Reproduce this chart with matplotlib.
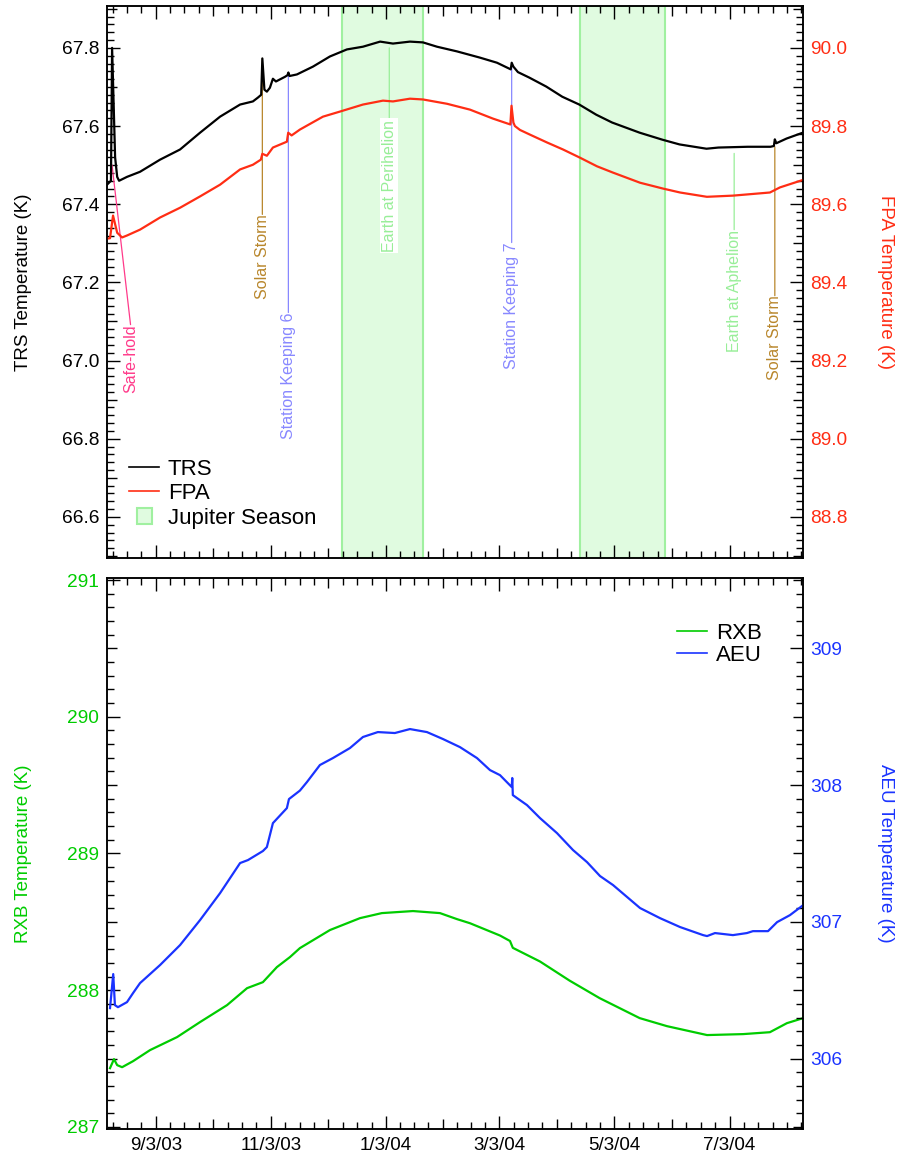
import numpy as np
import matplotlib
matplotlib.use('Agg')
import matplotlib.pyplot as plt
import matplotlib.dates as mdates
from matplotlib.lines import Line2D
from matplotlib.patches import Rectangle
from matplotlib.legend_handler import HandlerPatch
from matplotlib.ticker import FixedLocator, FormatStrFormatter

plt.rcParams['font.family'] = ['Liberation Sans', 'DejaVu Sans']

# ---------------- data ----------------
base_date = '2003-09-03'   # day 0 of the day-offset arrays

trs_days = [-25.8, -23.7, -23.1, -21.5, -20.4, -19.4, -15.2, -8.3, 2.3, 12.9, 23.5, 34.1,
            44.7, 51.5, 54.2, 55.9, 56.5, 57.6, 58.9, 60.5, 62.1, 63.7, 68.5, 69.8, 70.3,
            70.9, 74.8, 83.3, 92.3, 101.3, 109.8, 118.9, 125.7, 134.7, 141.6, 149.0, 159.6,
            171.8, 180.8, 188.1, 188.6, 189.5, 191.9, 197.9, 206.9, 215.4, 224.4, 233.4,
            241.8, 256.4, 268.5, 277.5, 291.8, 298.1, 313.6, 325.7, 327.5, 328.0, 328.8,
            334.2, 342.8]
trs_vals = [67.45, 67.46, 67.80, 67.52, 67.47, 67.46, 67.47, 67.483, 67.514, 67.540, 67.583,
            67.624, 67.655, 67.663, 67.673, 67.680, 67.773, 67.693, 67.688, 67.698, 67.721,
            67.714, 67.726, 67.730, 67.737, 67.728, 67.732, 67.752, 67.778, 67.796, 67.803,
            67.816, 67.811, 67.816, 67.814, 67.803, 67.791, 67.775, 67.762, 67.745, 67.762,
            67.752, 67.738, 67.724, 67.701, 67.675, 67.655, 67.629, 67.609, 67.583, 67.565,
            67.553, 67.542, 67.545, 67.547, 67.547, 67.549, 67.566, 67.556, 67.568, 67.583]

fpa_days = [-25.8, -24.2, -22.6, -20.4, -17.8, -15.2, -8.3, 2.3, 12.9, 23.5, 34.1, 44.7,
            51.5, 55.7, 56.5, 58.9, 62.1, 69.5, 70.2, 72.0, 76.4, 88.6, 97.6, 109.8, 120.4,
            125.7, 134.7, 141.6, 154.3, 166.5, 178.7, 187.9, 188.5, 189.5, 190.3, 193.0,
            198.3, 207.3, 215.8, 224.8, 233.8, 242.2, 256.6, 268.8, 277.8, 292.0, 305.8,
            313.2, 325.4, 330.7, 342.8]
fpa_vals = [89.512, 89.513, 89.571, 89.527, 89.515, 89.520, 89.535, 89.566, 89.591, 89.620,
            89.650, 89.689, 89.701, 89.714, 89.729, 89.724, 89.745, 89.760, 89.783, 89.776,
            89.791, 89.824, 89.837, 89.855, 89.865, 89.863, 89.870, 89.868, 89.857, 89.842,
            89.819, 89.804, 89.852, 89.809, 89.800, 89.790, 89.778, 89.758, 89.740, 89.719,
            89.697, 89.681, 89.655, 89.640, 89.630, 89.619, 89.622, 89.625, 89.630, 89.643,
            89.662]

rxb_days = [-24.2, -22.1, -20.4, -17.8, -12.0, -3.0, 11.3, 23.5, 37.8, 48.4, 56.8, 64.2,
            71.1, 76.4, 92.3, 108.2, 119.8, 136.3, 150.6, 159.6, 166.5, 182.4, 187.7, 189.2,
            203.6, 219.3, 235.2, 256.4, 270.9, 292.1, 311.2, 325.4, 334.4, 342.8]
rxb_vals = [287.430, 287.496, 287.452, 287.437, 287.481, 287.562, 287.657, 287.767, 287.891,
            288.015, 288.059, 288.169, 288.242, 288.308, 288.44, 288.527, 288.564, 288.579,
            288.564, 288.520, 288.49, 288.40, 288.36, 288.31, 288.21, 288.07, 287.942,
            287.796, 287.737, 287.672, 287.679, 287.693, 287.759, 287.795]

aeu_days = [-24.2, -22.5, -21.6, -20.0, -15.2, -12.0, -8.3, 2.3, 12.9, 23.5, 34.1, 44.7,
            48.9, 56.8, 58.9, 62.1, 69.5, 70.6, 76.4, 80.1, 87.0, 93.9, 102.9, 109.8, 117.7,
            126.7, 134.7, 143.7, 152.2, 161.2, 170.2, 177.1, 182.4, 188.6, 188.9, 189.2,
            196.7, 203.6, 212.6, 221.1, 228.5, 235.4, 242.3, 256.6, 267.2, 277.8, 290.0,
            292.1, 296.3, 305.8, 313.2, 316.4, 324.4, 329.2, 336.0, 342.8]
aeu_vals = [306.369, 306.618, 306.391, 306.376, 306.413, 306.479, 306.552, 306.684, 306.830,
            307.013, 307.210, 307.430, 307.452, 307.518, 307.547, 307.722, 307.832, 307.898,
            307.960, 308.022, 308.147, 308.198, 308.271, 308.352, 308.388, 308.381, 308.410,
            308.388, 308.337, 308.278, 308.198, 308.110, 308.073, 307.986, 308.052, 307.927,
            307.854, 307.759, 307.649, 307.525, 307.437, 307.335, 307.269, 307.101, 307.027,
            306.962, 306.903, 306.896, 306.918, 306.903, 306.918, 306.932, 306.932, 306.998,
            307.049, 307.120]

jupiter_starts = ['2003-12-10 17:00', '2004-04-14 17:00']
jupiter_ends = ['2004-01-22 14:00', '2004-05-29 19:00']

event_labels = ['Safe-hold', 'Solar Storm', 'Station Keeping 6', 'Earth at Perihelion',
                'Station Keeping 7', 'Earth at Aphelion', 'Solar Storm']
event_dates = ['2003-08-10 21:00', '2003-10-29 12:00', '2003-11-12 07:00', '2004-01-04 18:00',
               '2004-03-09 14:00', '2004-07-05 11:00', '2004-07-27 00:00']
event_trs = [67.50, 67.773, 67.737, 67.80, 67.762, 67.53, 67.547]

xtick_dates = ['2003-09-03', '2003-11-03', '2004-01-03', '2004-03-03', '2004-05-03', '2004-07-03']
xtick_labels = ['9/3/03', '11/3/03', '1/3/04', '3/3/04', '5/3/04', '7/3/04']

# ---------------- styling / layout ----------------
C_TRS = 'black'
C_FPA = '#ff2d14'
C_RXB = '#00cc00'
C_AEU = '#1a33ff'
event_colors = ['#ff3a8a', '#b8862b', '#8888ff', '#98ee98', '#8888ff', '#98ee98', '#b8862b']
event_text_top = [67.092, 67.374, 67.123, 67.616, 67.302, 67.335, 67.166]
event_text_dx = [9.8, 0, 0, 0, 0, 0, 0]
J_FACE = '#e0fbe0'
J_EDGE = '#a0f0a0'

TICK_FS = 13.8
XTICK_FS = 13.5
LABEL_FS = 13.5
ANN_FS = 11.5
LEG_FS = 16
MAJ_LEN, MED_LEN, MIN_LEN = 9.5, 7.5, 5

b0 = mdates.datestr2num(base_date)
trs_x = b0 + np.array(trs_days)
fpa_x = b0 + np.array(fpa_days)
rxb_x = b0 + np.array(rxb_days)
aeu_x = b0 + np.array(aeu_days)
xmaj = mdates.datestr2num(xtick_dates)
xlim = (mdates.datestr2num('2003-08-08 05:00'), mdates.datestr2num('2004-08-10 22:00'))

# minor ticks: 8 subdivisions between majors
step = (xmaj[-1] - xmaj[0]) / (len(xmaj) - 1) / 8
xmin_ticks = []
for i in range(len(xmaj) - 1):
    xmin_ticks += list(np.linspace(xmaj[i], xmaj[i + 1], 9)[1:-1])
t = xmaj[0] - step
while t > xlim[0]:
    xmin_ticks.append(t); t -= step
t = xmaj[-1] + step
while t < xlim[1]:
    xmin_ticks.append(t); t += step
xmid = [(xmaj[i] + xmaj[i + 1]) / 2 for i in range(len(xmaj) - 1)]

fig = plt.figure(figsize=(9, 11.62), dpi=100)
ax1 = fig.add_axes([0.1189, 0.5198, 0.7733, 0.4750])
ax2 = fig.add_axes([0.1189, 0.0284, 0.7733, 0.4742])
ax1r = ax1.twinx()
ax2r = ax2.twinx()

for a in (ax1, ax2, ax1r, ax2r):
    for s in a.spines.values():
        s.set_linewidth(1.1)

# ---- top panel ----
for s0, e0 in zip(jupiter_starts, jupiter_ends):
    ax1.axvspan(mdates.datestr2num(s0), mdates.datestr2num(e0), facecolor=J_FACE,
                edgecolor=J_EDGE, lw=1.5, zorder=0)
ax1.plot(trs_x, trs_vals, color=C_TRS, lw=1.6, zorder=3)
ax1r.plot(fpa_x, fpa_vals, color=C_FPA, lw=1.6)

for lab, d, yv, c, ty, dx in zip(event_labels, event_dates, event_trs, event_colors,
                                 event_text_top, event_text_dx):
    xd = mdates.datestr2num(d)
    bbox = dict(facecolor='white', edgecolor='none', pad=1.0) if 'Perihelion' in lab else None
    ax1.annotate(lab, xy=(xd, yv), xytext=(xd + dx, ty), rotation=90, ha='center', va='top',
                 color=c, fontsize=ANN_FS, bbox=bbox, zorder=2,
                 arrowprops=dict(arrowstyle='-', color=c, lw=0.9, shrinkA=0, shrinkB=0,
                                 relpos=(0.5, 1.0), patchA=None))

ax1.set_ylim(66.495, 67.907)
ax1r.set_ylim(88.695, 90.107)
ax1.set_xlim(*xlim)

# ---- bottom panel ----
ax2.plot(rxb_x, rxb_vals, color=C_RXB, lw=1.6)
ax2r.plot(aeu_x, aeu_vals, color=C_AEU, lw=1.6)
ax2.set_ylim(286.985, 291.015)
ax2r.set_ylim(305.485, 309.515)
ax2.set_xlim(*xlim)

# ---- ticks ----
def style_axes(ax, axr, ymaj, ymin, ymaj_r, ymin_r, fmt, c_left, c_right):
    ax.yaxis.set_major_locator(FixedLocator(ymaj))
    ax.yaxis.set_minor_locator(FixedLocator(ymin))
    axr.yaxis.set_major_locator(FixedLocator(ymaj_r))
    axr.yaxis.set_minor_locator(FixedLocator(ymin_r))
    ax.yaxis.set_major_formatter(FormatStrFormatter(fmt))
    axr.yaxis.set_major_formatter(FormatStrFormatter(fmt))
    ax.set_xticks(xmaj)
    ax.xaxis.set_minor_locator(FixedLocator(xmin_ticks))
    ax.tick_params(axis='both', which='both', direction='in', width=1.0, top=True, bottom=True)
    ax.tick_params(which='major', length=MAJ_LEN)
    ax.tick_params(which='minor', length=MIN_LEN)
    ax.tick_params(axis='y', which='both', left=True, right=False, labelsize=TICK_FS,
                   labelcolor=c_left, pad=5.5)
    ax.tick_params(axis='x', labelsize=XTICK_FS, pad=6)
    axr.tick_params(axis='y', which='both', direction='in', width=1.0, left=False, right=True,
                    labelsize=TICK_FS, labelcolor=c_right, pad=5.5)
    axr.tick_params(which='major', length=MAJ_LEN)
    axr.tick_params(which='minor', length=MIN_LEN)

top_maj = np.round(np.arange(66.6, 67.81, 0.2), 2)
top_min = np.round(np.arange(66.50, 67.905, 0.02), 2)
topr_maj = np.round(np.arange(88.8, 90.01, 0.2), 2)
topr_min = np.round(np.arange(88.70, 90.105, 0.02), 2)
style_axes(ax1, ax1r, top_maj, top_min, topr_maj, topr_min, '%.1f', 'black', C_FPA)
bot_maj = np.arange(287, 291.5, 1.0)
bot_min = np.round(np.arange(287.0, 291.01, 0.1), 1)
botr_maj = np.arange(306, 309.5, 1.0)
botr_min = np.round(np.arange(305.5, 309.51, 0.1), 1)
style_axes(ax2, ax2r, bot_maj, bot_min, botr_maj, botr_min, '%d', C_RXB, C_AEU)
ax1.tick_params(axis='x', labelbottom=False)
ax2.set_xticklabels(xtick_labels)

# ---- labels ----
lab_kw = dict(fontsize=LABEL_FS)
ax1.set_ylabel('TRS Temperature (K)', color='black', **lab_kw)
ax1.yaxis.set_label_coords(-0.108, 0.5)
ax1r.set_ylabel('FPA Temperature (K)', color=C_FPA, rotation=270, va='bottom', **lab_kw)
ax1r.yaxis.set_label_coords(1.106, 0.5)
ax2.set_ylabel('RXB Temperature (K)', color=C_RXB, **lab_kw)
ax2.yaxis.set_label_coords(-0.108, 0.5)
ax2r.set_ylabel('AEU Temperature (K)', color=C_AEU, rotation=270, va='bottom', **lab_kw)
ax2r.yaxis.set_label_coords(1.106, 0.5)

# ---- legends ----
def small_patch(legend, orig_handle, xdescent, ydescent, width, height, fontsize):
    return Rectangle((-xdescent + width * 0.25, -ydescent), width * 0.5, height)

h_top = [Line2D([], [], color=C_TRS, lw=1.2), Line2D([], [], color=C_FPA, lw=1.2),
         Rectangle((0, 0), 1, 1, facecolor=J_FACE, edgecolor=J_EDGE, lw=1.5)]
ax1r.legend(h_top, ['TRS', 'FPA', 'Jupiter Season'], loc='lower left',
            bbox_to_anchor=(0.0316, 0.053), frameon=False, fontsize=LEG_FS, handlelength=1.35,
            handletextpad=0.4, labelspacing=0.16, borderaxespad=0, borderpad=0,
            handler_map={Rectangle: HandlerPatch(patch_func=small_patch)})
h_bot = [Line2D([], [], color=C_RXB, lw=1.2), Line2D([], [], color=C_AEU, lw=1.2)]
ax2r.legend(h_bot, ['RXB', 'AEU'], loc='upper right', bbox_to_anchor=(0.941, 0.918),
            frameon=False, fontsize=LEG_FS, handlelength=1.35, handletextpad=0.4,
            labelspacing=0.04, borderaxespad=0, borderpad=0)

# ---- medium-length ticks (IDL-style) ----
def emphasize(axis, locs_emph, length):
    locs = axis.get_minorticklocs()
    ticks = axis.get_minor_ticks(len(locs))
    for loc, tk in zip(locs, ticks):
        if np.any(np.isclose(loc, locs_emph, atol=1e-4)):
            tk.tick1line.set_markersize(length)
            tk.tick2line.set_markersize(length)

fig.canvas.draw()
emphasize(ax1.xaxis, xmid, MED_LEN)
emphasize(ax2.xaxis, xmid, MED_LEN)
emphasize(ax1.yaxis, np.round(np.arange(66.5, 67.95, 0.2), 2), MED_LEN)
emphasize(ax1r.yaxis, np.round(np.arange(88.7, 90.15, 0.2), 2), MED_LEN)
emphasize(ax2.yaxis, np.arange(287.5, 291, 1.0), MED_LEN)
emphasize(ax2r.yaxis, np.arange(305.5, 310, 1.0), MED_LEN)

fig.savefig('out.png', dpi=100)
